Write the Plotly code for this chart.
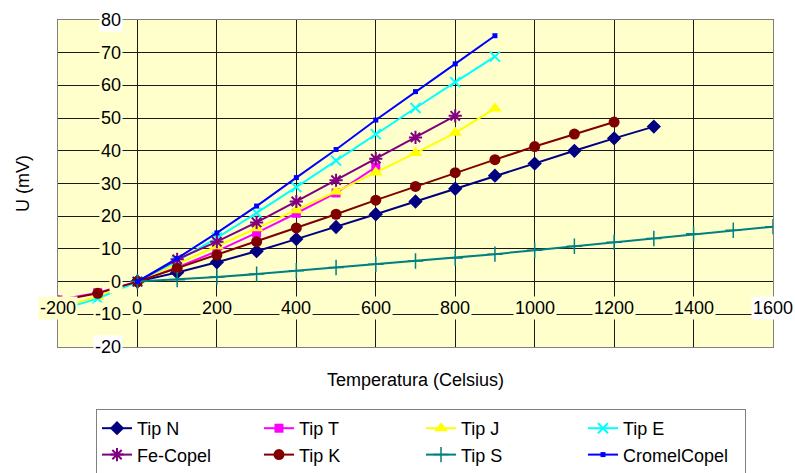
import plotly.graph_objects as go

# Thermocouple EMF (mV) versus temperature (°C)
temp_n = [0, 100, 200, 300, 400, 500, 600, 700, 800, 900, 1000, 1100, 1200, 1300]
emf_n = [0, 2.8, 5.9, 9.3, 13.0, 16.7, 20.6, 24.5, 28.4, 32.4, 36.1, 40.0, 43.8, 47.4]

temp_t = [-200, -100, 0, 100, 200, 300, 400, 500, 600]
emf_t = [-5.6, -3.4, 0, 4.3, 9.3, 14.9, 20.9, 27.1, 35.0]

temp_j = [-200, -100, 0, 100, 200, 300, 400, 500, 600, 700, 800, 900]
emf_j = [-7.9, -4.6, 0, 5.3, 10.8, 16.3, 21.8, 27.5, 33.4, 39.3, 45.5, 52.9]

temp_e = [-200, -100, 0, 100, 200, 300, 400, 500, 600, 700, 800, 900]
emf_e = [-8.8, -5.2, 0, 6.3, 13.4, 21.0, 28.9, 37.0, 45.1, 53.1, 61.0, 68.8]

temp_fe = [0, 100, 200, 300, 400, 500, 600, 700, 800]
emf_fe = [0, 6.8, 12.2, 18.1, 24.5, 31.0, 37.6, 44.1, 50.7]

temp_k = [-200, -100, 0, 100, 200, 300, 400, 500, 600, 700, 800, 900, 1000, 1100, 1200]
emf_k = [-5.9, -3.6, 0, 4.1, 8.1, 12.2, 16.4, 20.6, 24.9, 29.1, 33.3, 37.3, 41.3, 45.1, 48.8]

temp_s = [0, 100, 200, 300, 400, 500, 600, 700, 800, 900, 1000, 1100, 1200, 1300, 1400, 1500, 1600]
emf_s = [0, 0.6, 1.4, 2.3, 3.3, 4.3, 5.3, 6.3, 7.2, 8.4, 9.6, 10.8, 12.0, 13.2, 14.6, 15.7, 16.8]

temp_cc = [0, 100, 200, 300, 400, 500, 600, 700, 800, 900]
emf_cc = [0, 7.1, 14.9, 23.1, 31.8, 40.4, 49.4, 58.1, 66.6, 75.2]

x_ticks = [-200, 0, 200, 400, 600, 800, 1000, 1200, 1400, 1600]
y_ticks = [-20, -10, 0, 10, 20, 30, 40, 50, 60, 70, 80]

FONT = "Liberation Sans, Arial, sans-serif"
PLOT_BG = "#FFFFCC"
W, H = 795, 473

series = [
    ("Tip N", temp_n, emf_n, "#000080", dict(symbol="diamond", size=11)),
    ("Tip T", temp_t, emf_t, "#FF00FF", dict(symbol="square", size=9)),
    ("Tip J", temp_j, emf_j, "#FFFF00", dict(symbol="triangle-up", size=12)),
    ("Tip E", temp_e, emf_e, "#00FFFF",
     dict(symbol="x-thin", size=10, line=dict(width=2, color="#00FFFF"))),
    ("Fe-Copel", temp_fe, emf_fe, "#800080",
     dict(symbol="asterisk", size=11, line=dict(width=2, color="#800080"))),
    ("Tip K", temp_k, emf_k, "#800000", dict(symbol="circle", size=11)),
    ("Tip S", temp_s, emf_s, "#008080",
     dict(symbol="cross-thin", size=11, line=dict(width=1.5, color="#008080"))),
    ("CromelCopel", temp_cc, emf_cc, "#0000FF", dict(symbol="square", size=5)),
]

fig = go.Figure()
for name, xs, ys, color, marker in series:
    marker = dict(marker)
    marker.setdefault("color", color)
    fig.add_trace(go.Scatter(
        x=xs, y=ys, name=name, mode="lines+markers",
        line=dict(color=color, width=2),
        marker=marker,
    ))

# Tick labels sit on the axes crossing at the origin, with filled boxes
annotations = []
for v in x_ticks:
    edge = v == x_ticks[-1]
    annotations.append(dict(
        x=v, y=0, xref="x", yref="y", text=str(v), showarrow=False,
        xanchor="center", yanchor="middle", yshift=-26,
        bgcolor="white" if edge else PLOT_BG, borderpad=1,
        font=dict(family=FONT, size=18, color="black"),
    ))
for v in y_ticks:
    edge = v in (y_ticks[0], y_ticks[-1])
    annotations.append(dict(
        x=0, y=v, xref="x", yref="y", text=str(v), showarrow=False,
        xanchor="right", yanchor="middle", xshift=-14,
        bgcolor="white" if edge else PLOT_BG, borderpad=1,
        font=dict(family=FONT, size=18, color="black"),
    ))

axis_common = dict(
    showgrid=True, gridcolor="#1a1a1a", gridwidth=1,
    zeroline=True, zerolinecolor="#1a1a1a", zerolinewidth=1,
    showline=True, linecolor="#808080", linewidth=1, mirror=True,
    showticklabels=False, ticks="",
)

fig.update_layout(
    width=W, height=H,
    margin=dict(l=58, r=22, t=20, b=126, autoexpand=False),
    paper_bgcolor="white", plot_bgcolor=PLOT_BG,
    font=dict(family=FONT, size=18, color="black"),
    xaxis=dict(range=[-200, 1600], dtick=200, **axis_common,
               title=dict(text="Temperatura (Celsius)", standoff=26,
                          font=dict(family=FONT, size=18))),
    yaxis=dict(range=[-20, 80], dtick=10, **axis_common,
               title=dict(text="U (mV)", standoff=22,
                          font=dict(family=FONT, size=18))),
    legend=dict(
        orientation="h", xref="container", yref="container",
        x=96 / W, y=1 - 409 / H,
        xanchor="left", yanchor="top",
        entrywidth=117, entrywidthmode="pixels",
        bgcolor="white", bordercolor="#808080", borderwidth=1,
        font=dict(family=FONT, size=18, color="black"),
        traceorder="normal",
    ),
    annotations=annotations,
    showlegend=True,
)

fig.write_html("out.html")
